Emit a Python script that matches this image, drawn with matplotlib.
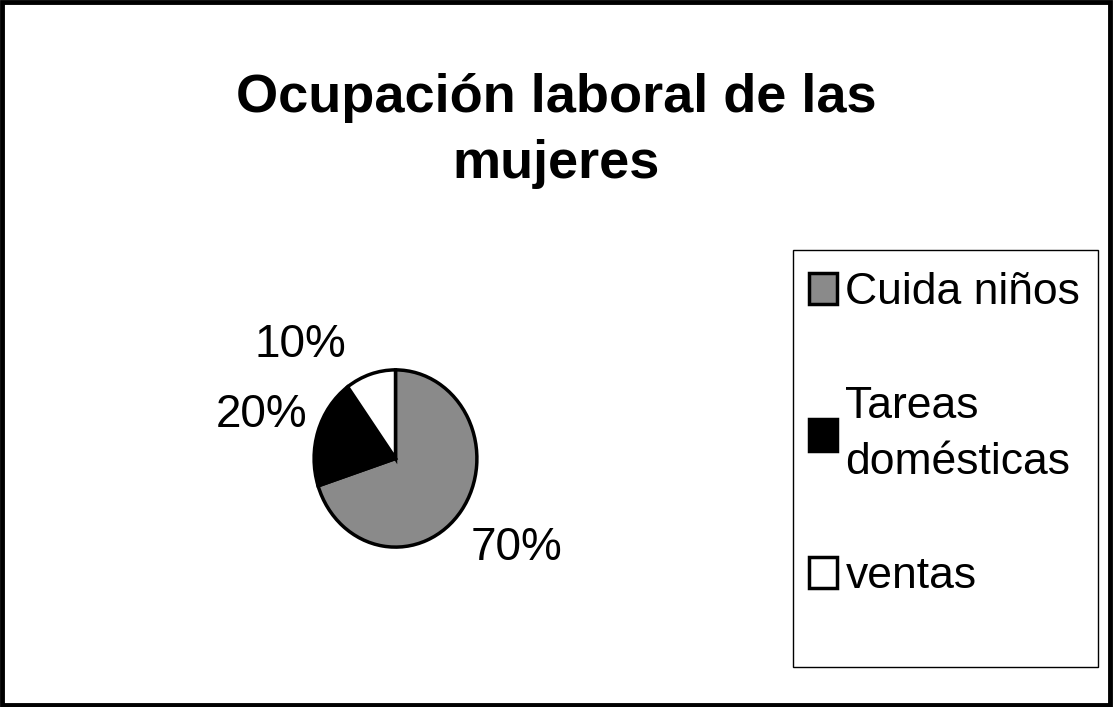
import matplotlib
matplotlib.use("Agg")
import matplotlib.pyplot as plt
from matplotlib.patches import Rectangle

plt.rcParams['font.family'] = ['Liberation Sans', 'DejaVu Sans']

categories = ["Cuida niños", "Tareas\ndomésticas", "ventas"]
shares = [70, 20, 10]
colors = ["#8a8a8a", "#000000", "#ffffff"]
title = "Ocupación laboral de las\nmujeres"

# where each percent label sits, in pie radii from the centre
label_pos = [(1.49, -1.01), (-1.64, 0.49), (-1.17, 1.28)]

W, H = 1113, 707
fig = plt.figure(figsize=(W / 100, H / 100), dpi=100)

# outer frame of the whole chart
fig.patches.append(Rectangle((0.002, 0.003), 0.995, 0.994, transform=fig.transFigure,
                             fill=False, edgecolor="black", linewidth=3.5))

fig.text(0.5, 1 - 73 / H, title, ha="center", va="top", fontsize=39,
         fontweight="bold", linespacing=1.4)

ax = fig.add_axes([(395.5 - 210) / W, (H - 458.5 - 210) / H, 420 / W, 420 / H])
wedges, texts, autotexts = ax.pie(shares, colors=colors, startangle=90, counterclock=False,
                                  autopct="%1.0f%%", pctdistance=1.6,
                                  wedgeprops=dict(edgecolor="black", linewidth=2.5))
for t, (x, y) in zip(autotexts, label_pos):
    t.set_position((x, y))
    t.set_fontsize(33)
    t.set_ha("center")
    t.set_va("center")
ax.set_xlim(-2.58, 2.58)
ax.set_ylim(-2.37, 2.37)
ax.set_aspect("auto")
ax.axis("off")

# legend box
fig.patches.append(Rectangle((793 / W, 1 - 667 / H), 305 / W, 417 / H, transform=fig.transFigure,
                             fill=False, edgecolor="black", linewidth=1))
leg = fig.legend(wedges, categories, loc="upper left", bbox_to_anchor=(809 / W, 1 - 272 / H),
                 frameon=False, fontsize=32, handlelength=0.62, handleheight=0.72,
                 handletextpad=0.2, labelspacing=1.65, borderaxespad=0, borderpad=0)
for t in leg.get_texts():
    t.set_linespacing(1.45)

fig.savefig("out.png", dpi=100)
